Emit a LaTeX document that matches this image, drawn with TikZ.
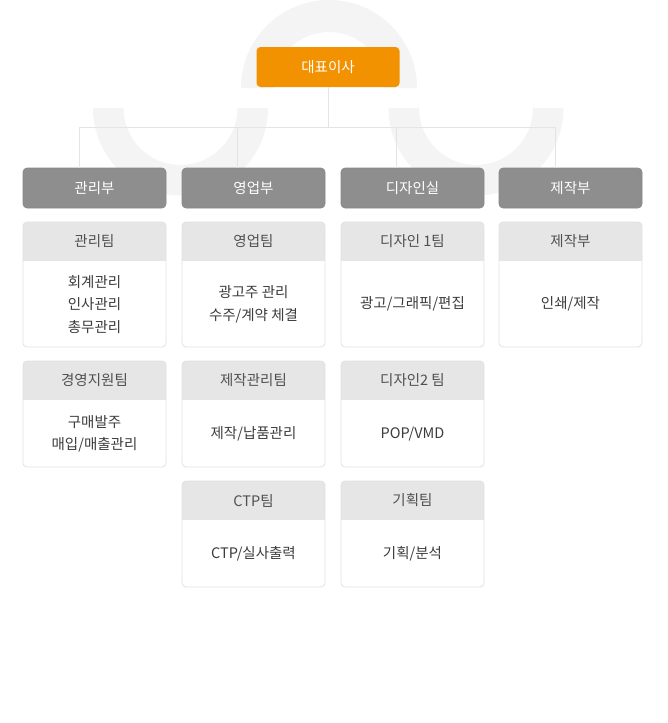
\documentclass[tikz,border=0pt]{standalone}
\usepackage{fontspec}
\setmainfont{Noto Sans CJK KR}
\definecolor{bgshape}{HTML}{F4F4F4}
\definecolor{connline}{HTML}{E4E4E4}
\definecolor{ceoorange}{HTML}{F39200}
\definecolor{deptgray}{HTML}{8E8E8E}
\definecolor{deptline}{HTML}{888888}
\definecolor{hdrfill}{HTML}{E6E6E6}
\definecolor{cardline}{HTML}{E2E2E2}
\definecolor{hdrtextc}{HTML}{505050}
\definecolor{bodytextc}{HTML}{3C3C3C}
\tikzset{
  ceobox/.style={fill=ceoorange, rounded corners=4pt, minimum width=143pt, minimum height=40pt, inner sep=0pt, text=white},
  deptbox/.style={fill=deptgray, draw=deptline, line width=0.6pt, rounded corners=4pt, minimum width=143pt, minimum height=40pt, inner sep=0pt, text=white},
  hdrtext/.style={text=hdrtextc, inner sep=0pt},
  bodytext/.style={text=bodytextc, inner sep=0pt, align=center},
  conn/.style={draw=connline, line width=0.9pt},
}
\newcommand{\teamcard}[6]{%
  \path[fill=white, rounded corners=4pt] (#2,-#3) rectangle ++(143,-#4);
  \path[fill=hdrfill, rounded corners=4pt] (#2,-#3) rectangle ++(143,-38.5);
  \fill[hdrfill] (#2,-#3-30) rectangle ++(143,-8.5);
  \draw[cardline, line width=0.8pt, rounded corners=4pt] (#2,-#3) rectangle ++(143,-#4);
  \node[hdrtext] (#1h) at (#2+71.5,-#3-19.5) {#5};
  \node[bodytext] (#1b) at (#2+71.5,{-(#3+39+(#4-38.5)/2)}) {#6};
}
\begin{document}
\begin{tikzpicture}[x=1pt,y=1pt,font=\fontsize{14.5}{22.5}\selectfont]
\useasboundingbox (0,0) rectangle (667,-723);
\fill[white] (0,0) rectangle (667,-723);
% background logo shapes
\fill[bgshape] (241,-88) arc[start angle=180,end angle=0,radius=88] -- (385,-88) arc[start angle=0,end angle=180,radius=56] -- cycle;
\fill[bgshape] (93,-108) arc[start angle=180,end angle=360,radius=87.5] -- (237.5,-108) arc[start angle=360,end angle=180,radius=57] -- cycle;
\fill[bgshape] (388.5,-108) arc[start angle=180,end angle=360,radius=87.5] -- (533,-108) arc[start angle=360,end angle=180,radius=57] -- cycle;
% top box
\node[ceobox] (ceo) at (328,-67) {대표이사};
% departments
\node[deptbox] (dept1) at (94.5,-188) {관리부};
\node[deptbox] (dept2) at (253.5,-188) {영업부};
\node[deptbox] (dept3) at (412.5,-188) {디자인실};
\node[deptbox] (dept4) at (570.5,-188) {제작부};
% connectors
\coordinate (hub) at (328.5,-127);
\coordinate (d1) at (79,-127);
\coordinate (d2) at (237,-127);
\coordinate (d3) at (396,-127);
\coordinate (d4) at (555.5,-127);
\draw[conn] (ceo.south -| hub) -- (hub);
\draw[conn] (d1) -- (d4);
\draw[conn] (d1) -- (d1 |- dept1.north);
\draw[conn] (d2) -- (d2 |- dept2.north);
\draw[conn] (d3) -- (d3 |- dept3.north);
\draw[conn] (d4) -- (d4 |- dept4.north);
% team cards
\teamcard{t11}{23}{222}{125}{관리팀}{회계관리\\인사관리\\총무관리}
\teamcard{t12}{23}{361}{106}{경영지원팀}{구매발주\\매입/매출관리}
\teamcard{t21}{182}{222}{125}{영업팀}{광고주 관리\\수주/계약 체결}
\teamcard{t22}{182}{361}{106}{제작관리팀}{제작/납품관리}
\teamcard{t23}{182}{481}{106}{CTP팀}{CTP/실사출력}
\teamcard{t31}{341}{222}{125}{디자인 1팀}{광고/그래픽/편집}
\teamcard{t32}{341}{361}{106}{디자인2 팀}{POP/VMD}
\teamcard{t33}{341}{481}{106}{기획팀}{기획/분석}
\teamcard{t41}{499}{222}{125}{제작부}{인쇄/제작}
\end{tikzpicture}
\end{document}
